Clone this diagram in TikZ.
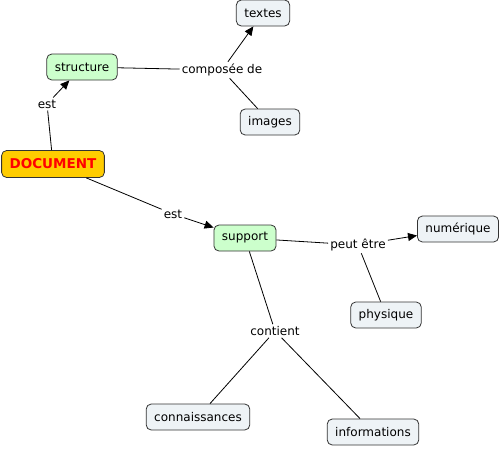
\documentclass[tikz,border=0pt]{standalone}
\usepackage{fontspec}
\setmainfont{DejaVu Sans}
\usepackage{xcolor}
\usetikzlibrary{arrows.meta}
\definecolor{cgray}{HTML}{EEF3F6}
\definecolor{cgreen}{HTML}{CCFFCC}
\definecolor{cgold}{HTML}{FFCC00}
\definecolor{cred}{HTML}{FF0000}
\definecolor{cline}{HTML}{333333}
\tikzset{
  % concept boxes
  concept/.style = {rectangle, rounded corners=5pt, draw=cline, fill=#1, line width=0.8pt,
                    inner xsep=8pt, minimum height=26pt, font=\fontsize{12}{14}\selectfont},
  concept/.default = cgray,
  link/.style    = {fill=white, inner sep=2pt, font=\fontsize{12}{14}\selectfont},
  con/.style     = {draw=black, line width=0.8pt},
  arr/.style     = {con, -{Triangle[length=9pt,width=8pt]}},
}
\begin{document}
\begin{tikzpicture}[x=1pt,y=-1pt]
\useasboundingbox (0,0) rectangle (501,448);
% concepts
\node[concept=cgold, font=\fontsize{13.5}{15}\bfseries, text=cred, minimum height=27pt] (doc) at (53,164) {DOCUMENT};
\node[concept=cgreen] (struct) at (82,67) {structure};
\node[concept] (textes) at (263,13) {textes};
\node[concept] (images) at (270,122) {images};
\node[concept=cgreen] (support) at (245,238) {support};
\node[concept] (numer) at (458,229) {numérique};
\node[concept] (phys) at (386,315) {physique};
\node[concept] (conn) at (198,417) {connaissances};
\node[concept] (info) at (373,432) {informations};
% linking phrases
\node[link] (est1) at (47,104) {est};
\node[link] (comp) at (222,70) {composée de};
\node[link] (est2) at (173,214) {est};
\node[link] (peut) at (358,245) {peut être};
\node[link] (cont) at (275,331) {contient};
% connectors
\draw[con] (doc) -- (est1);
\draw[arr] (est1) -- (struct);
\draw[con] (struct) -- (comp);
\draw[arr] (comp) -- (textes);
\draw[con] (images) -- (comp);
\draw[con] (doc) -- (est2);
\draw[arr] (est2) -- (support);
\draw[con] (support) -- (peut);
\draw[arr] (peut) -- (numer);
\draw[con] (phys) -- (peut);
\draw[con] (support) -- (cont);
\draw[con] (cont) -- (conn);
\draw[con] (cont) -- (info);
\end{tikzpicture}
\end{document}
